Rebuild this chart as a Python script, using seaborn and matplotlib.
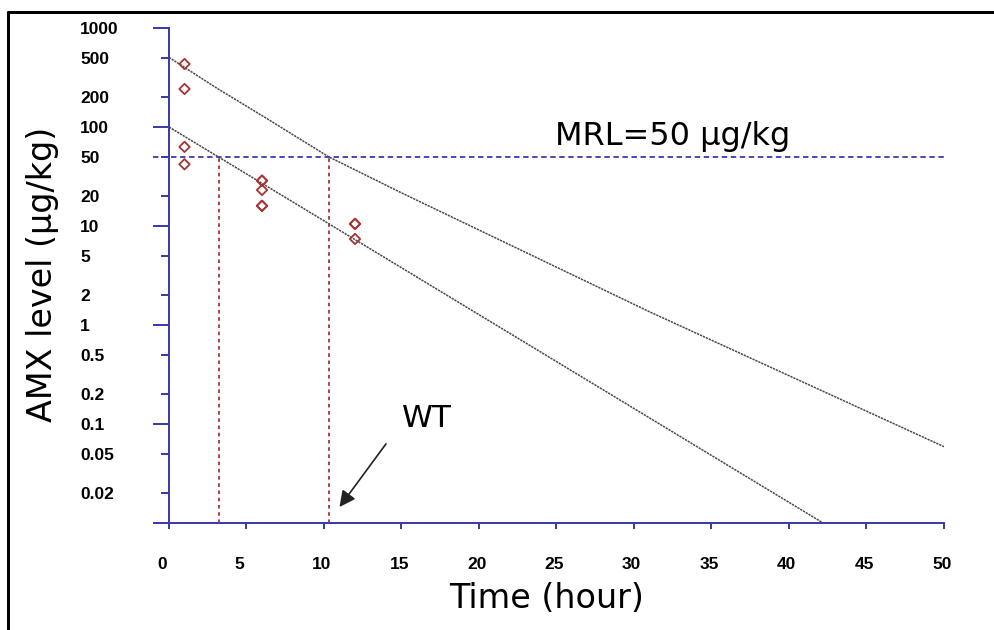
import numpy as np
import pandas as pd
import seaborn as sns
import matplotlib.pyplot as plt
from matplotlib.lines import Line2D
from matplotlib.transforms import ScaledTranslation

# measured residue data (hour, ug/kg)
obs_hour = [1, 1, 1, 1, 6, 6, 6, 6, 6, 12, 12, 12]
obs_level = [433, 242, 63, 42, 28.7, 28.7, 23.1, 16, 16, 10.5, 10.5, 7.4]

# fitted regression line and upper tolerance line
fit_hour = [0, 42.2]
fit_level = [100, 0.01]
upper_hour = [0, 3.1, 6.3, 10.3, 14.9, 31, 50]
upper_level = [505, 246, 122, 50, 22, 1.36, 0.059]

mrl = 50
wt_low = 3.2
wt_high = 10.3

x_ticks = list(range(0, 51, 5))
y_major = [0.01, 0.1, 1, 10, 100, 1000]
y_major_labels = ["", "0.1", "1", "10", "100", "1000"]
y_minor = [0.02, 0.05, 0.2, 0.5, 2, 5, 20, 50, 200, 500]
y_minor_labels = ["0.02", "0.05", "0.2", "0.5", "2", "5", "20", "50", "200", "500"]

sns.set_style("white")
plt.rcParams['font.family'] = ['DejaVu Sans']
plt.rcParams['text.color'] = 'black'
plt.rcParams['xtick.labelcolor'] = 'black'
plt.rcParams['ytick.labelcolor'] = 'black'
plt.rcParams['axes.labelcolor'] = 'black'

blue = "#3c3caa"
red = "#a83232"
px = 72 / 100  # points per pixel

fig = plt.figure(figsize=(9.95, 6.3), dpi=100)
ax = fig.add_axes([169 / 995, 1 - 523 / 630, 775 / 995, 495 / 630])

ax.set_yscale("log")
ax.set_xlim(0, 50)
ax.set_ylim(0.01, 1000)

# lines
sns.lineplot(x=upper_hour, y=upper_level, ax=ax, color="#4a4a4a", lw=1.1,
             linestyle=(0, (1.5, 0.6)))
sns.lineplot(x=fit_hour, y=fit_level, ax=ax, color="#4a4a4a", lw=1.1,
             linestyle=(0, (1.5, 0.6)))

# MRL and withdrawal time guides
ax.hlines(mrl, -1.03, 50, colors=blue, linestyles=(0, (3, 2)), lw=1.3, clip_on=False)
ax.vlines([wt_low, wt_high], 0.01, mrl, colors=red, linestyles=(0, (2, 2)), lw=1.3)

# observed points
sns.scatterplot(x=obs_hour, y=obs_level, ax=ax, marker="D", s=28,
                facecolor="none", edgecolor=red, linewidth=1.3, zorder=5)

# spines / ticks
for s in ["top", "right"]:
    ax.spines[s].set_visible(False)
for s in ["left", "bottom"]:
    ax.spines[s].set_color(blue)
    ax.spines[s].set_linewidth(2 * px)

tick_font = dict(family="Liberation Sans", weight="bold", size=12.5)
ax.set_xticks(x_ticks, labels=[str(t) for t in x_ticks], fontdict=tick_font)
ax.set_yticks(y_major, labels=y_major_labels, fontdict=tick_font)
ax.set_yticks(y_minor, labels=y_minor_labels, minor=True, fontdict=tick_font)
ax.tick_params(axis="x", which="major", direction="out", length=6 * px,
               width=2 * px, color=blue, pad=28 * px, bottom=True)
ax.tick_params(axis="x", which="minor", bottom=False)
ax.tick_params(axis="y", which="major", direction="out", length=16 * px,
               width=2 * px, color=blue, pad=73 * px, left=True)
ax.tick_params(axis="y", which="minor", direction="out", length=8 * px,
               width=2 * px, color=blue, pad=81 * px, left=True)
plt.setp(ax.get_yticklabels(which="both"), ha="left")
shift = ScaledTranslation(-12 / 100, 0, fig.dpi_scale_trans)
for lab in ax.get_xticklabels():
    lab.set_ha("left")
    lab.set_transform(lab.get_transform() + shift)

# axis labels
ax.set_xlabel("Time (hour)", fontsize=24)
ax.xaxis.set_label_coords((547 - 169) / 775, -(598 - 523) / 495)
ax.xaxis.label.set_va("center")
ax.set_ylabel("AMX level (µg/kg)", fontsize=24)
ax.yaxis.set_label_coords((43 - 169) / 775, (523 - 274) / 495)
ax.yaxis.label.set_va("center")

# annotations
ax.text(24.9, 65.8, "MRL=50 µg/kg", fontsize=23, ha="left", va="baseline")
ax.text(15.0, 0.093, "WT", fontsize=22.5, ha="left", va="baseline")
ax.annotate("", xy=(11.0, 0.0145), xytext=(14.0, 0.063),
            arrowprops=dict(arrowstyle="-|>", color="#222222", lw=1.2,
                            mutation_scale=24, shrinkA=0, shrinkB=0))

# frame lines at top and left of the figure
fig.add_artist(Line2D([8 / 995, 1], [1 - 12 / 630, 1 - 12 / 630],
                      transform=fig.transFigure, color="black", lw=3 * px))
fig.add_artist(Line2D([8 / 995, 8 / 995], [0, 1 - 12 / 630],
                      transform=fig.transFigure, color="black", lw=3 * px))

fig.savefig("out.png", dpi=100)
